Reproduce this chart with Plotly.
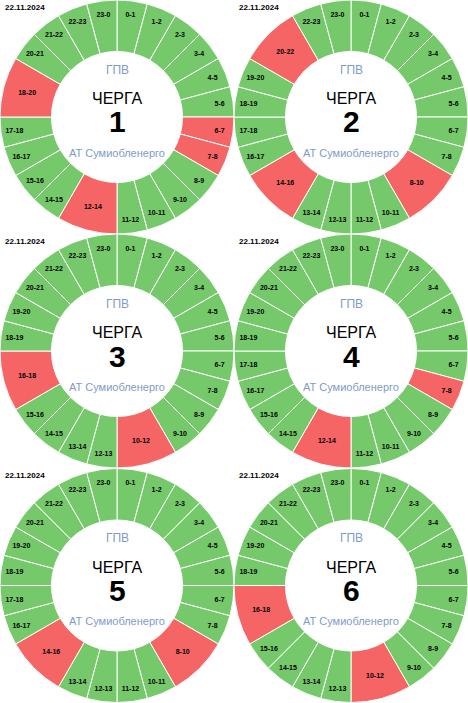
import plotly.graph_objects as go

W, H = 468, 703

date_label = "22.11.2024"
queue_numbers = [1, 2, 3, 4, 5, 6]

# outage segments per queue (start-end hours)
q1_off = ["6-7", "7-8", "12-14", "18-20"]
q2_off = ["8-10", "14-16", "20-22"]
q3_off = ["10-12", "16-18"]
q4_off = ["7-8", "12-14"]
q5_off = ["8-10", "14-16"]
q6_off = ["10-12", "16-18"]
queue_offs = [q1_off, q2_off, q3_off, q4_off, q5_off, q6_off]

center_top = "ГПВ"
center_mid = "ЧЕРГА"
center_bottom = "АТ Сумиобленерго"

GREEN = "#76c96b"
RED = "#f56565"
BLUE_GREY = "#7f9bc9"
FONT = "Liberation Sans, Arial, sans-serif"


def build_segments(offs):
    starts = {}
    for s in offs:
        a, b = s.split("-")
        a, b = int(a), int(b)
        dur = (b - a) % 24 or 24
        starts[a] = (s, dur)
    labels, values, colors = [], [], []
    h = 0
    while h < 24:
        if h in starts:
            lab, dur = starts[h]
            labels.append(lab)
            values.append(dur)
            colors.append(RED)
            h += dur
        else:
            labels.append(f"{h}-{(h + 1) % 24}")
            values.append(1)
            colors.append(GREEN)
            h += 1
    return labels, values, colors


fig = go.Figure()
annotations = []

col_x = [0, 234]
row_y = [0, 234, 468]

for i, (qn, offs) in enumerate(zip(queue_numbers, queue_offs)):
    r, c = divmod(i, 2)
    x0, y0 = col_x[c], row_y[r]
    size_h = 234 if r < 2 else 235
    labels, values, colors = build_segments(offs)
    dom_x = [x0 / W, (x0 + 234) / W]
    dom_y = [1 - (y0 + size_h) / H, 1 - y0 / H]
    fig.add_trace(go.Pie(
        labels=labels,
        values=values,
        marker=dict(colors=colors, line=dict(color="white", width=1)),
        sort=False,
        direction="clockwise",
        rotation=0,
        hole=0.56,
        textinfo="label",
        textposition="inside",
        insidetextorientation="horizontal",
        textfont=dict(family=FONT, size=7, color="black", weight="bold"),
        domain=dict(x=dom_x, y=dom_y),
        showlegend=False,
        hoverinfo="label",
    ))
    cx = x0 + 117
    cy = y0 + 117

    def ax(px):
        return px / W

    def ay(py):
        return 1 - py / H

    annotations += [
        dict(x=ax(cx), y=ay(cy - 47), text=center_top,
             font=dict(family=FONT, size=12, color=BLUE_GREY)),
        dict(x=ax(cx), y=ay(cy - 18), text=center_mid,
             font=dict(family=FONT, size=16, color="black")),
        dict(x=ax(cx), y=ay(cy + 5), text=str(qn),
             font=dict(family=FONT, size=30, color="black", weight="bold")),
        dict(x=ax(cx), y=ay(cy + 36), text=center_bottom,
             font=dict(family=FONT, size=11, color=BLUE_GREY)),
        dict(x=ax(x0 + 2.5), y=ay(y0 + 7.5), text=date_label, xanchor="left",
             font=dict(family=FONT, size=8, color="black", weight="bold")),
    ]

for a in annotations:
    a.update(xref="paper", yref="paper", showarrow=False,
             xanchor=a.get("xanchor", "center"), yanchor="middle")

fig.update_layout(
    width=W, height=H,
    margin=dict(l=0, r=0, t=0, b=0),
    paper_bgcolor="white",
    plot_bgcolor="white",
    annotations=annotations,
    uniformtext=dict(minsize=7, mode="show"),
)

fig.write_html(
    "out.html",
    config={"displayModeBar": False},
    post_script="document.body.style.margin='0';document.body.style.overflow='hidden';",
)
